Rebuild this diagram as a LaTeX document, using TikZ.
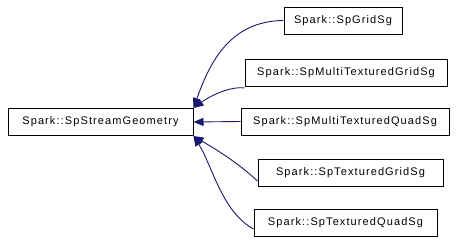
\documentclass[tikz,border=0pt]{standalone}
\usepackage{fontspec}
\setmainfont{Liberation Sans}[LetterSpace=10]
\usetikzlibrary{arrows.meta}
\definecolor{edgeblue}{RGB}{25,25,112}
\begin{document}
\begin{tikzpicture}[x=1pt,y=-1pt,
  cls/.style={draw=black, line width=1pt, inner sep=0pt, minimum height=27pt,
              font=\fontsize{11pt}{13pt}\selectfont},
  inherit/.style={draw=edgeblue, line width=0.9pt,
                  -{Triangle[length=10pt,width=8pt]}, fill=none}]
  \useasboundingbox (0,0) rectangle (458,244);
  % base class
  \node[cls, minimum width=185pt] (base) at (100.5,122) {Spark::SpStreamGeometry};
  % derived classes
  \node[cls, minimum width=118pt] (grid)   at (343,20.5)  {Spark::SpGridSg};
  \node[cls, minimum width=202pt] (mtgrid) at (346,72.5)  {Spark::SpMultiTexturedGridSg};
  \node[cls, minimum width=208pt] (mtquad) at (345,121.5) {Spark::SpMultiTexturedQuadSg};
  \node[cls, minimum width=185pt] (tgrid)  at (350.5,173) {Spark::SpTexturedGridSg};
  \node[cls, minimum width=183pt] (tquad)  at (345.5,223) {Spark::SpTexturedQuadSg};
  % inheritance edges
  \draw[inherit] (grid.west) .. controls (230,21) and (210,62) .. (base.north east);
  \draw[inherit] ([yshift=-1.5pt]mtgrid.south west) .. controls (230,86) and (210,96) .. (base.north east);
  \draw[inherit] (mtquad.west) -- (base.east);
  \draw[inherit] ([yshift=-8pt]tgrid.west) .. controls (235,160) and (210,146) .. (base.south east);
  \draw[inherit] ([yshift=-6pt]tquad.west) .. controls (222,212) and (212,165) .. (base.south east);
\end{tikzpicture}
\end{document}
